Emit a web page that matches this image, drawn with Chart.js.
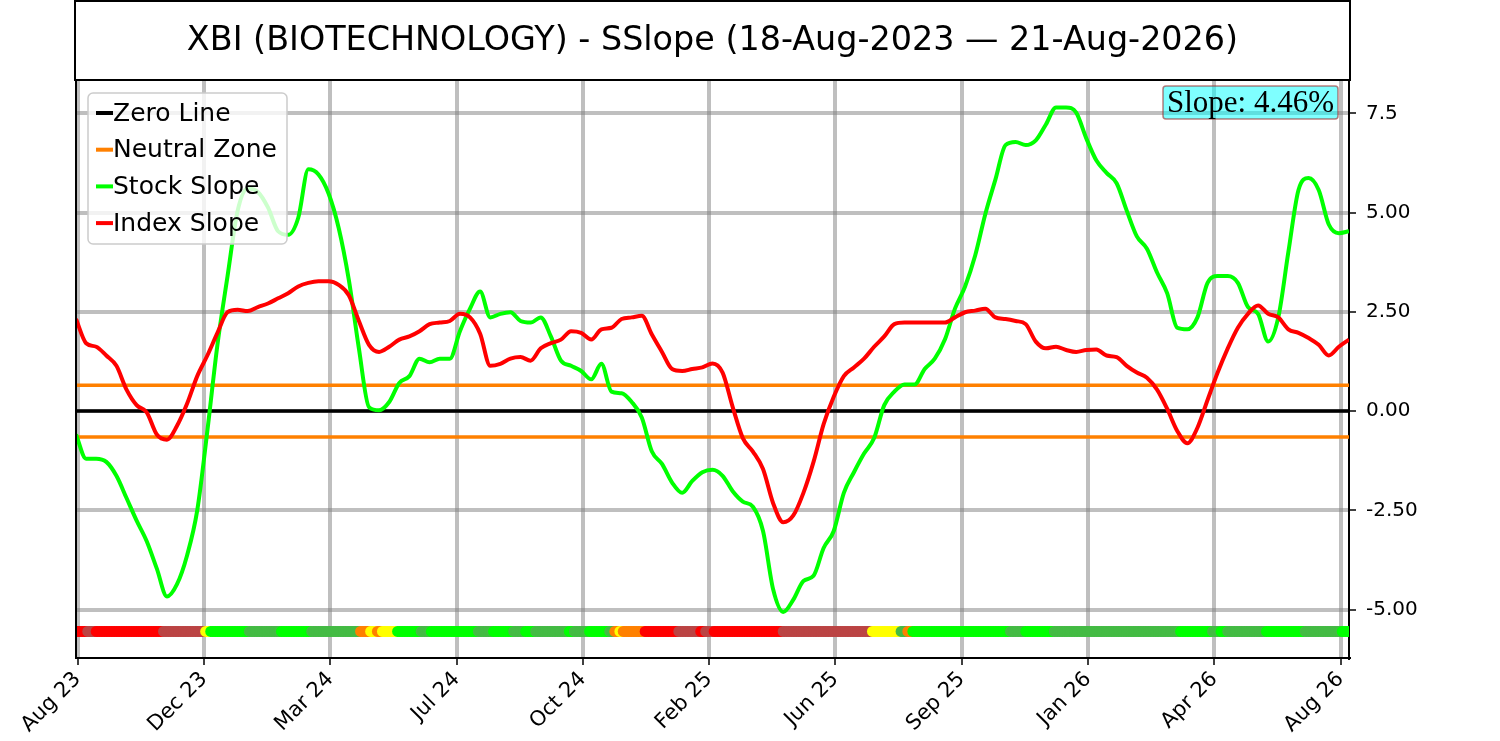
<!DOCTYPE html>
<html>
<head>
<meta charset="utf-8">
<script src="https://cdn.jsdelivr.net/npm/chart.js@4.4.1/dist/chart.umd.min.js"></script>
<style>
  html, body { margin: 0; padding: 0; background: #ffffff; }
  #wrap { width: 1500px; height: 741px; }
</style>
</head>
<body>
<div id="wrap"><canvas id="slopeChart" width="1500" height="741"></canvas></div>
<script>
const titleText = "XBI (BIOTECHNOLOGY) - SSlope (18-Aug-2023 \u2014 21-Aug-2026)";
const slopeText = "Slope: 4.46%";

// one sample every 6 trading days, starting 18-Aug-2023
const step = 6;

const stockSlope = [
  -0.59, -1.20, -1.20, -1.28, -1.63, -2.19, -2.76, -3.28, -3.97, -4.67,
  -4.36, -3.63, -2.50, -0.50, 1.67, 3.40, 5.05, 5.61, 5.52, 5.13,
  4.53, 4.44, 4.87, 6.09, 5.96, 5.48, 4.61, 3.31, 1.58, 0.10,
  0.02, 0.23, 0.71, 0.88, 1.32, 1.23, 1.32, 1.32, 2.01, 2.58,
  3.01, 2.36, 2.45, 2.49, 2.27, 2.23, 2.36, 1.88, 1.27, 1.14,
  1.01, 0.80, 1.19, 0.49, 0.45, 0.23, -0.16, -1.02, -1.33, -1.80,
  -2.06, -1.76, -1.54, -1.48, -1.63, -2.02, -2.28, -2.41, -3.02, -4.49,
  -5.06, -4.75, -4.28, -4.15, -3.45, -3.02, -2.06, -1.54, -1.07, -0.68,
  0.15, 0.49, 0.67, 0.67, 1.06, 1.32, 1.80, 2.58, 3.14, 3.92,
  4.96, 5.83, 6.70, 6.78, 6.70, 6.82, 7.22, 7.65, 7.65, 7.52,
  6.87, 6.31, 6.00, 5.74, 5.05, 4.40, 4.09, 3.49, 2.97, 2.10,
  2.06, 2.36, 3.23, 3.40, 3.40, 3.23, 2.62, 2.45, 1.75, 2.36,
  4.01, 5.57, 5.87, 5.57, 4.70, 4.48, 4.53
];

const indexSlope = [
  2.32, 1.71, 1.62, 1.40, 1.14, 0.54, 0.15, -0.03, -0.59, -0.72,
  -0.37, 0.19, 0.88, 1.40, 1.97, 2.49, 2.55, 2.52, 2.62, 2.71,
  2.84, 2.97, 3.14, 3.23, 3.27, 3.27, 3.18, 2.92, 2.27, 1.67,
  1.49, 1.62, 1.80, 1.88, 2.01, 2.19, 2.23, 2.27, 2.45, 2.36,
  1.95, 1.14, 1.19, 1.32, 1.36, 1.27, 1.58, 1.71, 1.80, 2.01,
  1.97, 1.80, 2.06, 2.10, 2.32, 2.36, 2.40, 1.93, 1.49, 1.06,
  1.01, 1.06, 1.10, 1.20, 0.97, 0.10, -0.68, -1.02, -1.46, -2.32,
  -2.80, -2.63, -2.06, -1.28, -0.33, 0.36, 0.88, 1.10, 1.32, 1.62,
  1.88, 2.19, 2.23, 2.23, 2.23, 2.23, 2.23, 2.36, 2.49, 2.53,
  2.58, 2.36, 2.32, 2.27, 2.19, 1.75, 1.58, 1.62, 1.54, 1.49,
  1.54, 1.55, 1.40, 1.36, 1.14, 0.97, 0.84, 0.54, 0.06, -0.50,
  -0.81, -0.42, 0.28, 0.97, 1.58, 2.10, 2.45, 2.66, 2.45, 2.36,
  2.06, 1.97, 1.84, 1.67, 1.40, 1.62, 1.80
];

const neutralLevel = 0.65;

// status strip: trading-day index where each run starts, and its state
const bandLevel = -5.55;
const bandStarts = [
  0, 7, 12, 52, 77, 80, 103, 122, 140, 169, 175, 179, 182, 191, 205, 211,
  239, 248, 260, 267, 273, 293, 296, 305, 317, 320, 323, 325, 338, 358,
  371, 374, 379, 420, 473, 490, 494, 497, 555, 564, 581, 656, 675, 680,
  684, 707, 730, 752
];
const bandStates = [
  "R", "B", "R", "B", "Y", "G", "M", "G", "M", "O", "Y", "O", "Y", "G", "M", "G",
  "M", "G", "M", "G", "M", "G", "M", "G", "M", "O", "Y", "O", "R", "B",
  "R", "B", "R", "B", "Y", "M", "O", "G", "M", "G", "M", "G", "M", "G",
  "M", "G", "M", "G"
];
const stateColors = {
  R: "#ff0000", B: "#bb4444", Y: "#ffff00", O: "#ff8000", G: "#00ff00", M: "#44bb44"
};

const xTickPos = [1, 76, 151, 226, 301, 376, 451, 526, 601, 676, 751];
const xTickLabels = ["Aug 23", "Dec 23", "Mar 24", "Jul 24", "Oct 24", "Feb 25",
                     "Jun 25", "Sep 25", "Jan 26", "Apr 26", "Aug 26"];
const yTickValues = [-5, -2.5, 0, 2.5, 5, 7.5];
const yTickLabels = ["-5.00", "-2.50", "0.00", "2.50", "5.00", "7.5"];

const lastIndex = (stockSlope.length - 1) * step;

const stockPoints = stockSlope.map((v, k) => ({ x: k * step, y: v }));
const indexPoints = indexSlope.map((v, k) => ({ x: k * step, y: v }));

const bandPoints = [];
const bandColors = [];
let run = 0;
for (let i = 0; i <= lastIndex; i++) {
  while (run + 1 < bandStarts.length && i >= bandStarts[run + 1]) run++;
  bandPoints.push({ x: i, y: bandLevel });
  bandColors.push(stateColors[bandStates[run]]);
}

const flat = (y) => [{ x: 0, y: y }, { x: lastIndex, y: y }];

const gridColor = "rgba(128,128,128,0.5)";

// title box, frame, legend and slope badge
const decorations = {
  id: "decorations",
  afterDatasetsDraw(chart) {
    const ctx = chart.ctx;
    const a = chart.chartArea;
    ctx.save();

    // left spine
    ctx.strokeStyle = "#000";
    ctx.lineWidth = 2;
    ctx.beginPath();
    ctx.moveTo(a.left, a.top);
    ctx.lineTo(a.left, a.bottom);
    ctx.stroke();

    // legend
    const items = chart.data.datasets.filter(d => d.inLegend);
    const lx = a.left + 12, ly = a.top + 13, lw = 199, lh = 151;
    ctx.beginPath();
    ctx.roundRect(lx, ly, lw, lh, 5);
    ctx.fillStyle = "rgba(255,255,255,0.8)";
    ctx.fill();
    ctx.strokeStyle = "#cccccc";
    ctx.lineWidth = 1.5;
    ctx.stroke();
    ctx.font = "25px 'DejaVu Sans'";
    ctx.textBaseline = "middle";
    ctx.textAlign = "left";
    items.forEach((d, i) => {
      const cy = ly + 20 + i * 36.7;
      ctx.strokeStyle = d.borderColor;
      ctx.lineWidth = 4;
      ctx.beginPath();
      ctx.moveTo(lx + 8, cy);
      ctx.lineTo(lx + 25, cy);
      ctx.stroke();
      ctx.fillStyle = "#000";
      ctx.fillText(d.label, lx + 25, cy + 1);
    });

    // slope badge
    const bx = a.right - 186, by = a.top + 6, bw = 175, bh = 33;
    ctx.beginPath();
    ctx.roundRect(bx, by, bw, bh, 3);
    ctx.fillStyle = "rgba(0,255,255,0.5)";
    ctx.fill();
    ctx.strokeStyle = "rgba(150,40,40,0.6)";
    ctx.lineWidth = 1.5;
    ctx.stroke();
    ctx.fillStyle = "#000";
    ctx.font = "31px 'Liberation Serif'";
    ctx.textAlign = "center";
    ctx.fillText(slopeText, bx + bw / 2, by + bh / 2 + 1);

    // title box
    ctx.strokeStyle = "#000";
    ctx.lineWidth = 2;
    ctx.strokeRect(a.left - 1, 1, a.right - a.left + 2, a.top - 1);
    ctx.font = "33.4px 'DejaVu Sans'";
    ctx.textAlign = "center";
    ctx.fillText(titleText, (a.left + a.right) / 2, a.top / 2 + 1);
    ctx.restore();
  }
};

new Chart(document.getElementById("slopeChart"), {
  type: "line",
  plugins: [decorations],
  data: {
    datasets: [
      { label: "Zero Line", inLegend: true, data: flat(0), borderColor: "#000000",
        borderWidth: 3.5, pointRadius: 0, order: 4 },
      { label: "Neutral Zone", inLegend: true, data: flat(neutralLevel), borderColor: "#ff8000",
        borderWidth: 3.5, pointRadius: 0, order: 3 },
      { label: "Neutral Zone Low", data: flat(-neutralLevel), borderColor: "#ff8000",
        borderWidth: 3.5, pointRadius: 0, order: 3 },
      { label: "Stock Slope", inLegend: true, data: stockPoints, borderColor: "#00ff00",
        borderWidth: 4, pointRadius: 0, cubicInterpolationMode: "monotone", order: 2 },
      { label: "Index Slope", inLegend: true, data: indexPoints, borderColor: "#ff0000",
        borderWidth: 4, pointRadius: 0, cubicInterpolationMode: "monotone", order: 1 },
      { label: "Status", data: bandPoints, showLine: false, pointRadius: 5.5,
        pointBackgroundColor: bandColors, pointBorderWidth: 0, borderColor: "transparent", order: 5 }
    ]
  },
  options: {
    responsive: false,
    devicePixelRatio: 1,
    animation: false,
    layout: { padding: { left: 76, top: 80, right: 0, bottom: 0 } },
    plugins: {
      legend: { display: false },
      tooltip: { enabled: false },
      title: { display: false }
    },
    scales: {
      x: {
        type: "linear",
        min: 0,
        max: lastIndex,
        afterBuildTicks: (s) => { s.ticks = xTickPos.map(v => ({ value: v })); },
        afterFit: (s) => { s.height = 83; },
        ticks: {
          autoSkip: false,
          minRotation: 45,
          maxRotation: 45,
          padding: 2,
          color: "#000",
          font: { family: "DejaVu Sans", size: 21 },
          callback: (v, i) => xTickLabels[i]
        },
        grid: { color: gridColor, lineWidth: 4, tickColor: "#000", tickWidth: 1.5, tickLength: 7 },
        border: { display: true, color: "#000", width: 2 }
      },
      y: {
        position: "right",
        min: -6.22,
        max: 8.34,
        afterBuildTicks: (s) => { s.ticks = yTickValues.map(v => ({ value: v })); },
        afterFit: (s) => { s.width = 151; },
        ticks: {
          padding: 10,
          color: "#000",
          font: { family: "DejaVu Sans", size: 20 },
          callback: (v, i) => yTickLabels[i]
        },
        grid: { color: gridColor, lineWidth: 4, tickColor: "#000", tickWidth: 1.5, tickLength: 7 },
        border: { display: true, color: "#000", width: 2 }
      }
    }
  }
});
</script>
</body>
</html>
